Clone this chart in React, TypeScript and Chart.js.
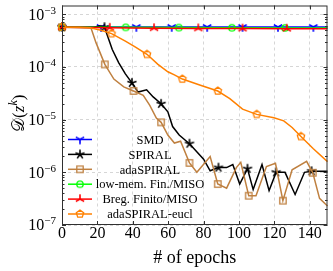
import React, { useEffect, useRef } from "react";
import { Chart, registerables } from "chart.js";

Chart.register(...registerables);

// ---------------- data ----------------
const xTickValues = [0, 20, 40, 60, 80, 100, 120, 140];
const yTickExponents = [-3, -4, -5, -6, -7];
const xMin = 0;
const xMax = 150;
const yMin = 1e-7;
const yMax = 1.47e-3;

const seriesLabels = [
  "SMD",
  "SPIRAL",
  "adaSPIRAL",
  "low-mem. Fin./MISO",
  "Breg. Finito/MISO",
  "adaSPIRAL-eucl",
];

const smdEpochs = [0, 22, 42, 62, 82, 102, 122, 142, 150];
const smdValues = [5.75e-4, 5.75e-4, 5.75e-4, 5.75e-4, 5.75e-4, 5.75e-4, 5.75e-4, 5.75e-4, 5.75e-4];
const smdMarkers = [0, 22, 42, 62, 82, 102, 122, 142];

const spiralEpochs = [0, 18, 21, 24, 28.4, 32, 35.8, 39.5, 43, 47.8, 51.5, 56, 59.8, 62.5, 66.2, 72, 76.4, 80, 83.7, 88.4, 93, 96.5, 100.4, 104.8, 108, 113, 117, 121, 126, 131.7, 137, 141, 150];
const spiralValues = [5.7e-4, 5.7e-4, 6.0e-4, 5.7e-4, 2.15e-4, 1.21e-4, 7.4e-5, 5.0e-5, 3.34e-5, 3.7e-5, 2.7e-5, 2.0e-5, 1.41e-5, 7.4e-6, 5.1e-6, 3.5e-6, 2.4e-6, 1.78e-6, 1.07e-6, 1.23e-6, 1.23e-6, 1.41e-6, 6.0e-7, 1.17e-6, 4.7e-7, 1.41e-6, 4.5e-7, 1.0e-6, 1.0e-6, 3.8e-7, 1.0e-6, 1.05e-6, 1.05e-6];
const spiralMarkers = [0, 24, 39.5, 56, 72, 88.4, 104.8, 121, 141];

const adaEpochs = [0, 16.4, 19.2, 24.2, 29.3, 34.9, 40.4, 45.9, 49.6, 53.3, 56, 59.8, 63.5, 67, 72, 76.2, 83.7, 88, 93, 98.5, 101, 105.5, 109.6, 115.5, 120.6, 124.8, 130, 138.2, 141.7, 145.5, 150];
const adaValues = [5.7e-4, 5.5e-4, 2.9e-4, 1.12e-4, 5.9e-5, 4.2e-5, 3.5e-5, 2.9e-5, 1.86e-5, 1.07e-5, 8.9e-6, 5.1e-6, 3.6e-6, 3.9e-6, 1.51e-6, 1.0e-6, 2.0e-6, 6.0e-7, 5.0e-7, 1.23e-6, 1.55e-6, 3.6e-7, 3.6e-7, 1.29e-6, 1.48e-6, 2.9e-7, 1.12e-6, 1.62e-6, 9.8e-7, 3.2e-7, 2.3e-7];
const adaMarkers = [0, 24.2, 40.4, 56, 72, 88, 105.5, 124.8, 141.7];

const lowMemEpochs = [0, 36, 66, 96, 126, 150];
const lowMemValues = [5.7e-4, 5.65e-4, 5.6e-4, 5.55e-4, 5.52e-4, 5.5e-4];
const lowMemMarkers = [0, 36, 66, 96, 126];

const bregEpochs = [0, 27, 52, 77, 102, 127, 150];
const bregValues = [5.7e-4, 5.55e-4, 5.45e-4, 5.4e-4, 5.35e-4, 5.32e-4, 5.3e-4];
const bregMarkers = [0, 27, 52, 77, 102, 127];

const euclEpochs = [0, 10, 16, 22, 28, 35.8, 41.3, 48, 54.2, 59.8, 63.5, 68, 78.2, 88, 94.8, 102, 110, 119.7, 125.3, 130, 135, 142, 150];
const euclValues = [5.7e-4, 5.7e-4, 5.55e-4, 5.0e-4, 4.3e-4, 3.1e-4, 2.4e-4, 1.74e-4, 1.12e-4, 8.1e-5, 7.1e-5, 5.9e-5, 4.5e-5, 3.5e-5, 2.5e-5, 1.58e-5, 1.26e-5, 1.09e-5, 9.5e-6, 7.1e-6, 4.8e-6, 2.8e-6, 1.6e-6];
const euclMarkers = [0, 28, 48, 68, 88, 110, 135];

// ---------------- styling ----------------
const colors = ["#0000ff", "#000000", "#bf8040", "#00ff00", "#ff0000", "#ff8000"];
const markerKinds = ["ydown", "star", "square", "circle", "yup", "pentagon"];
const SERIF = "'Liberation Serif', 'DejaVu Serif', serif";
const AXIS_COLOR = "#303030";
const GRID_COLOR = "#d6d6d6";

function makeMarker(kind: string, color: string): HTMLCanvasElement {
  const c = document.createElement("canvas");
  c.width = 14;
  c.height = 14;
  const g = c.getContext("2d")!;
  g.translate(7, 7);
  g.strokeStyle = color;
  g.fillStyle = color;
  g.lineWidth = 1.3;
  const arms = (angles: number[], r: number) => {
    g.beginPath();
    for (const a of angles) {
      const rad = (a * Math.PI) / 180;
      g.moveTo(0, 0);
      g.lineTo(r * Math.cos(rad), -r * Math.sin(rad));
    }
    g.stroke();
  };
  if (kind === "ydown") {
    g.lineWidth = 1.6;
    arms([30, 150, 270], 4.8);
  } else if (kind === "yup") {
    g.lineWidth = 1.6;
    arms([90, 210, 330], 4.8);
  } else if (kind === "star") {
    g.lineWidth = 1.6;
    arms([90, 162, 234, 306, 18], 4.8);
  } else if (kind === "square") {
    g.strokeRect(-3.2, -3.2, 6.4, 6.4);
  } else if (kind === "circle") {
    g.beginPath();
    g.arc(0, 0, 3.2, 0, Math.PI * 2);
    g.stroke();
  } else if (kind === "pentagon") {
    g.beginPath();
    for (let k = 0; k < 5; k++) {
      const rad = ((90 + 72 * k) * Math.PI) / 180;
      const px = 3.9 * Math.cos(rad);
      const py = -3.9 * Math.sin(rad);
      if (k === 0) g.moveTo(px, py);
      else g.lineTo(px, py);
    }
    g.closePath();
    g.stroke();
  }
  return c;
}

function drawRich(
  ctx: CanvasRenderingContext2D,
  segs: { t: string; font: string; dy?: number }[],
  x: number,
  y: number,
  align: "left" | "center" | "right"
) {
  let total = 0;
  const widths = segs.map((s) => {
    ctx.font = s.font;
    const w = ctx.measureText(s.t).width;
    total += w;
    return w;
  });
  let cx = align === "left" ? x : align === "center" ? x - total / 2 : x - total;
  ctx.textAlign = "left";
  ctx.textBaseline = "alphabetic";
  segs.forEach((s, i) => {
    ctx.font = s.font;
    ctx.fillText(s.t, cx, y + (s.dy || 0));
    cx += widths[i];
  });
}

export default function App() {
  const ref = useRef<HTMLCanvasElement>(null);

  useEffect(() => {
    document.body.style.margin = "0";
    const canvas = ref.current!;
    const markerImgs = markerKinds.map((k, i) => makeMarker(k, colors[i]));

    const allEpochs = [smdEpochs, spiralEpochs, adaEpochs, lowMemEpochs, bregEpochs, euclEpochs];
    const allValues = [smdValues, spiralValues, adaValues, lowMemValues, bregValues, euclValues];
    const allMarkers = [smdMarkers, spiralMarkers, adaMarkers, lowMemMarkers, bregMarkers, euclMarkers];

    const datasets = seriesLabels.map((label, i) => ({
      label,
      data: allEpochs[i].map((x, j) => ({ x, y: allValues[i][j] })),
      borderColor: colors[i],
      backgroundColor: colors[i],
      borderWidth: 1.5,
      tension: 0,
      order: 6 - i,
      pointStyle: markerImgs[i] as any,
      pointRadius: (c: any) => (allMarkers[i].includes(c.raw?.x) ? 4 : 0),
      pointHoverRadius: 0,
      clip: false as any,
    }));

    const decor = {
      id: "decor",
      afterDatasetsDraw(chart: any) {
        const ctx: CanvasRenderingContext2D = chart.ctx;
        const a = chart.chartArea;
        const xs = chart.scales.x;
        const ys = chart.scales.y;
        ctx.save();

        // frame
        ctx.strokeStyle = AXIS_COLOR;
        ctx.lineWidth = 1;
        ctx.strokeRect(a.left + 0.5, a.top + 0.5, a.right - a.left - 1, a.bottom - a.top - 1);

        // inward ticks
        ctx.beginPath();
        for (const v of xTickValues) {
          const px = Math.round(xs.getPixelForValue(v)) + 0.5;
          ctx.moveTo(px, a.bottom);
          ctx.lineTo(px, a.bottom - 4);
          ctx.moveTo(px, a.top);
          ctx.lineTo(px, a.top + 4);
        }
        for (const e of yTickExponents) {
          const py = Math.round(ys.getPixelForValue(Math.pow(10, e))) + 0.5;
          ctx.moveTo(a.left, py);
          ctx.lineTo(a.left + 4, py);
          ctx.moveTo(a.right, py);
          ctx.lineTo(a.right - 4, py);
          for (let m = 2; m <= 9; m++) {
            const val = m * Math.pow(10, e);
            if (val > yMax) continue;
            const pm = Math.round(ys.getPixelForValue(val)) + 0.5;
            ctx.moveTo(a.left, pm);
            ctx.lineTo(a.left + 2.5, pm);
            ctx.moveTo(a.right, pm);
            ctx.lineTo(a.right - 2.5, pm);
          }
        }
        ctx.stroke();

        // tick labels
        ctx.fillStyle = "#000";
        ctx.textAlign = "center";
        ctx.textBaseline = "alphabetic";
        ctx.font = `16px ${SERIF}`;
        for (const v of xTickValues) {
          ctx.fillText(String(v), xs.getPixelForValue(v), a.bottom + 13);
        }
        for (const e of yTickExponents) {
          const py = ys.getPixelForValue(Math.pow(10, e));
          drawRich(
            ctx,
            [
              { t: "10", font: `16px ${SERIF}` },
              { t: "\u2212" + String(-e), font: `11px ${SERIF}`, dy: -6 },
            ],
            a.left - 6,
            py + 5.3,
            "right"
          );
        }

        // axis titles
        ctx.fillStyle = "#000";
        ctx.textAlign = "center";
        ctx.font = `18px ${SERIF}`;
        ctx.fillText("# of epochs", (a.left + a.right) / 2, a.bottom + 38);

        ctx.save();
        ctx.translate(24, (a.top + a.bottom) / 2 - 2);
        ctx.rotate(-Math.PI / 2);
        drawRich(
          ctx,
          [
            { t: "\u{1D49F}", font: `17px 'DejaVu Serif', 'DejaVu Sans', serif` },
            { t: "(", font: `17px ${SERIF}` },
            { t: "z", font: `italic 17px ${SERIF}` },
            { t: "k", font: `italic 12px ${SERIF}`, dy: -7 },
            { t: ")", font: `17px ${SERIF}` },
          ],
          0,
          0,
          "center"
        );
        ctx.restore();

        // legend (inside plot, lower left)
        const n = seriesLabels.length;
        for (let i = 0; i < n; i++) {
          const cy = a.bottom - 11 - (n - 1 - i) * 14.9;
          ctx.strokeStyle = colors[i];
          ctx.lineWidth = 1.5;
          ctx.beginPath();
          ctx.moveTo(a.left + 6, cy);
          ctx.lineTo(a.left + 30, cy);
          ctx.stroke();
          const img = markerImgs[i];
          ctx.drawImage(img, a.left + 18 - img.width / 2, cy - img.height / 2);
          ctx.fillStyle = "#000";
          ctx.font = `12.5px ${SERIF}`;
          ctx.textAlign = "center";
          ctx.fillText(seriesLabels[i], a.left + 88, cy + 4.2);
        }
        ctx.restore();
      },
    };

    const chart = new Chart(canvas, {
      type: "line",
      data: { datasets: datasets as any },
      options: {
        animation: false,
        responsive: false,
        devicePixelRatio: 1,
        events: [],
        layout: { padding: { top: 2, right: 1, left: 0, bottom: 0 } },
        plugins: { legend: { display: false }, tooltip: { enabled: false } },
        scales: {
          x: {
            type: "linear",
            min: xMin,
            max: xMax,
            afterBuildTicks: (s: any) => {
              s.ticks = xTickValues.map((v) => ({ value: v }));
            },
            afterFit: (s: any) => {
              s.height = 46;
            },
            ticks: { display: false },
            grid: { color: GRID_COLOR, lineWidth: 1, drawTicks: false },
            border: { display: false, dash: [3, 3] },
          },
          y: {
            type: "logarithmic",
            min: yMin,
            max: yMax,
            afterBuildTicks: (s: any) => {
              s.ticks = yTickExponents.map((e) => ({ value: Math.pow(10, e) }));
            },
            afterFit: (s: any) => {
              s.width = 62;
            },
            ticks: { display: false },
            grid: { color: GRID_COLOR, lineWidth: 1, drawTicks: false },
            border: { display: false, dash: [3, 3] },
          },
        },
      } as any,
      plugins: [decor],
    });
    return () => chart.destroy();
  }, []);

  return (
    <canvas
      ref={ref}
      width={333}
      height={271}
      style={{ display: "block", width: 333, height: 271 }}
    />
  );
}
